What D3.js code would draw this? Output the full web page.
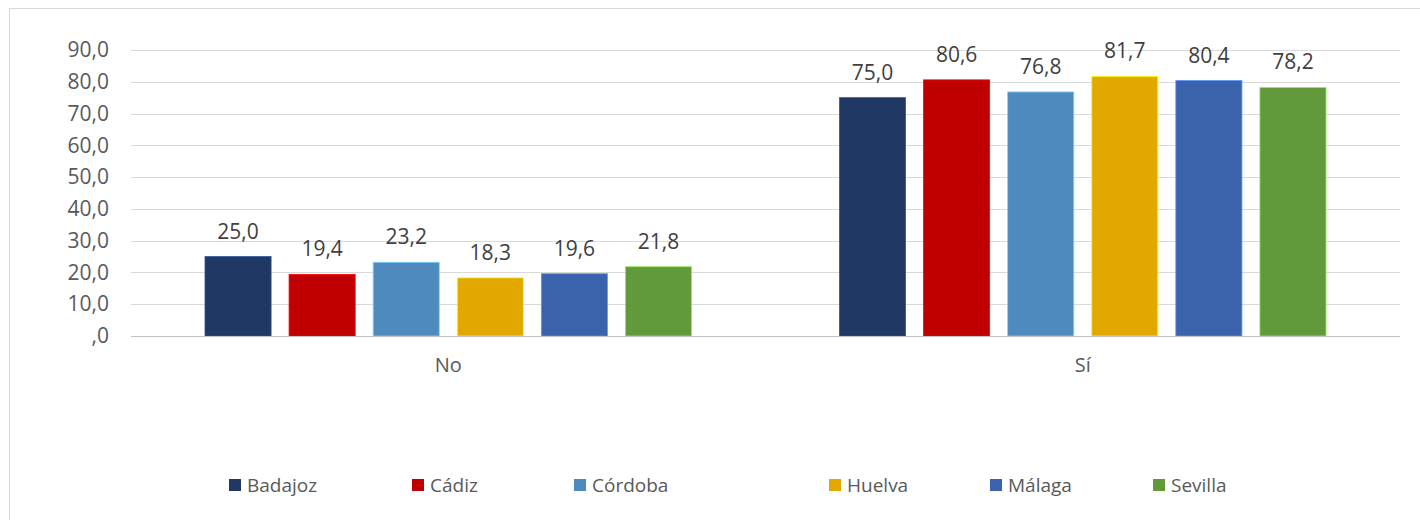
<!DOCTYPE html>
<html>
<head>
<meta charset="utf-8">
<script src="https://cdn.jsdelivr.net/npm/d3@7"></script>
<style>
  html, body { margin: 0; padding: 0; background: #fff; }
  svg { display: block; font-family: "Open Sans", "Noto Sans", sans-serif; }
</style>
</head>
<body>
<svg id="chart" width="1420" height="520"></svg>
<script>
// ---- data ----
const categories = ["No", "Sí"];
const provinces = ["Badajoz", "Cádiz", "Córdoba", "Huelva", "Málaga", "Sevilla"];
const valuesNo = [25.0, 19.4, 23.2, 18.3, 19.6, 21.8];
const valuesSi = [75.0, 80.6, 76.8, 81.7, 80.4, 78.2];
const tickValues = [0, 10, 20, 30, 40, 50, 60, 70, 80, 90];
const tickLabels = [",0", "10,0", "20,0", "30,0", "40,0", "50,0", "60,0", "70,0", "80,0", "90,0"];

// ---- styles / layout ----
const colors = ["#1F3864", "#C00000", "#4E8ABE", "#E2A800", "#3A63AC", "#61993B"];
const legendX = [229, 412, 574, 829, 990, 1153];
const plot = { left: 131, right: 1400, top: 50, bottom: 336 };

const svg = d3.select("#chart");

// chart border
svg.append("rect").attr("x", 9.5).attr("y", 8.5).attr("width", 1440).attr("height", 540)
  .attr("fill", "none").attr("stroke", "#d9d9d9").attr("stroke-width", 1);

const y = d3.scaleLinear().domain([0, 90]).range([plot.bottom, plot.top]);
const x0 = d3.scaleBand().domain(categories).range([plot.left, plot.right]).padding(0);
const x1 = d3.scaleBand().domain(provinces).range([0, x0.bandwidth()])
  .paddingInner(0.214).paddingOuter(0.88);

// gridlines
svg.append("g").selectAll("line").data(tickValues).join("line")
  .attr("x1", plot.left).attr("x2", plot.right)
  .attr("y1", d => Math.round(y(d)) + 0.5).attr("y2", d => Math.round(y(d)) + 0.5)
  .attr("stroke", "#d9d9d9").attr("stroke-width", 1.2);

// y axis labels
const yAxis = d3.axisLeft(y).tickValues(tickValues)
  .tickFormat((d, i) => tickLabels[i]).tickSize(0).tickPadding(22);
const gy = svg.append("g").attr("transform", `translate(${plot.left},0)`).call(yAxis);
gy.select(".domain").remove();
gy.selectAll("text").attr("font-size", 21).attr("fill", "#595959")
  .attr("font-family", "\"Open Sans\", sans-serif");

// bars
const seriesByCat = { "No": valuesNo, "Sí": valuesSi };
const fmt = v => (v === 0 ? ",0" : v.toFixed(1).replace(".", ","));

categories.forEach(cat => {
  const g = svg.append("g").attr("transform", `translate(${x0(cat)},0)`);
  const data = provinces.map((p, i) => ({ p, v: seriesByCat[cat][i], c: colors[i] }));
  g.selectAll("rect").data(data).join("rect")
    .attr("x", d => x1(d.p)).attr("width", x1.bandwidth())
    .attr("y", d => y(d.v)).attr("height", d => y(0) - y(d.v))
    .attr("fill", d => d.c)
    .attr("stroke", d => d3.color(d.c).brighter(1.2)).attr("stroke-width", 0.8);
  g.selectAll("text").data(data).join("text")
    .attr("x", d => x1(d.p) + x1.bandwidth() / 2)
    .attr("y", d => y(d.v) - 18)
    .attr("text-anchor", "middle")
    .attr("font-size", 21).attr("fill", "#404040")
    .text(d => fmt(d.v));
});

// baseline
svg.append("line").attr("x1", plot.left).attr("x2", plot.right)
  .attr("y1", y(0) + 0.5).attr("y2", y(0) + 0.5)
  .attr("stroke", "#bfbfbf").attr("stroke-width", 1.2);

// category labels
const xAxis = d3.axisBottom(x0).tickSize(0).tickPadding(22);
const gx = svg.append("g").attr("transform", `translate(0,${plot.bottom})`).call(xAxis);
gx.select(".domain").remove();
gx.selectAll("text").attr("font-size", 20).attr("fill", "#595959")
  .attr("font-family", "\"Open Sans\", sans-serif");

// legend
const lg = svg.append("g").selectAll("g").data(provinces).join("g")
  .attr("transform", (d, i) => `translate(${legendX[i]},479)`);
lg.append("rect").attr("width", 12).attr("height", 12).attr("fill", (d, i) => colors[i]);
lg.append("text").attr("x", 18).attr("y", 13).attr("font-size", 19)
  .attr("fill", "#595959").text(d => d);
</script>
</body>
</html>
